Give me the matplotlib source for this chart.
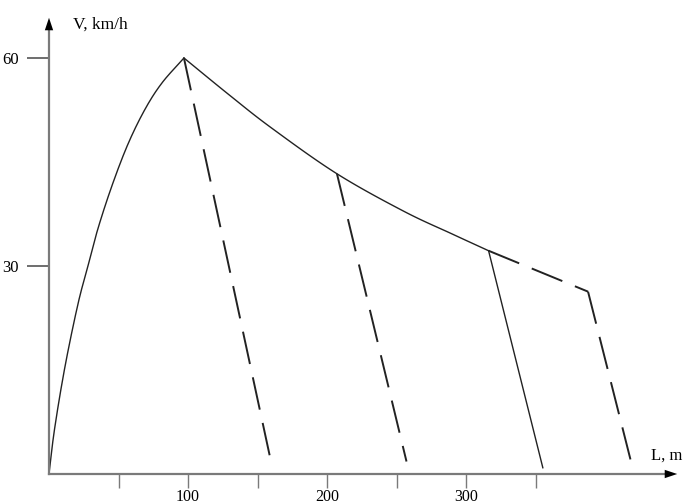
import matplotlib
matplotlib.use("Agg")
import matplotlib.pyplot as plt
import numpy as np

# acceleration curve (L, m ; V, km/h)
acc_L = [0, 4, 11.5, 20.8, 28, 35.2, 45.3, 56.8, 69, 81.2, 97]
acc_V = [0, 6.5, 15.5, 24.5, 30.0, 35.4, 41.6, 47.6, 52.6, 56.4, 60]

# coasting curve after peak
coast_L = [97, 130, 160, 207, 255, 290, 316]
coast_V = [60, 54.6, 49.9, 43.3, 37.9, 34.6, 32.2]

# braking lines
brake1_L = [97, 160]
brake1_V = [60, 1.4]
brake2_L = [207, 257]
brake2_V = [43.3, 1.8]
brake3_L = [316, 355]
brake3_V = [32.2, 0.9]
coast2_L = [316, 387.5]
coast2_V = [32.2, 26.3]
brake4_L = [387.5, 420]
brake4_V = [26.3, 0.5]

x_ticks = [50, 100, 150, 200, 250, 300, 350]
x_labels = ["", "100", "", "200", "", "300", ""]
y_ticks = [30, 60]
y_labels = ["30", "60"]


def smooth(xs, ys, n=20):
    # catmull-rom through the read points
    p = np.column_stack([xs, ys]).astype(float)
    p = np.vstack([2 * p[0] - p[1], p, 2 * p[-1] - p[-2]])
    t = np.linspace(0, 1, n, endpoint=False)[:, None]
    out = []
    for i in range(1, len(p) - 2):
        p0, p1, p2, p3 = p[i - 1], p[i], p[i + 1], p[i + 2]
        out.append(0.5 * ((2 * p1) + (-p0 + p2) * t
                          + (2 * p0 - 5 * p1 + 4 * p2 - p3) * t ** 2
                          + (-p0 + 3 * p1 - 3 * p2 + p3) * t ** 3))
    out.append(p[-2][None, :])
    out = np.vstack(out)
    return out[:, 0], out[:, 1]


plt.rcParams["font.family"] = ["Liberation Serif", "DejaVu Serif"]

fig = plt.figure(figsize=(6.85, 5.04), dpi=100)
ax = fig.add_axes([49 / 685, 30 / 504, 631 / 685, 459 / 504])
xmax, ymax = 453.6, 66.2
ax.set_xlim(0, xmax)
ax.set_ylim(0, ymax)

for s in ax.spines.values():
    s.set_visible(False)

axis_col = "#7a7a7a"
ax.plot([0, xmax - 8], [0, 0], color=axis_col, lw=1.6, clip_on=False, zorder=3)
ax.plot([0, 0], [0, ymax - 2], color=axis_col, lw=1.6, clip_on=False, zorder=3)
ax.annotate("", xy=(xmax, 0), xytext=(xmax - 10, 0),
            arrowprops=dict(arrowstyle="-|>,head_length=0.9,head_width=0.3",
                            color="black", lw=0), annotation_clip=False)
ax.annotate("", xy=(0, ymax), xytext=(0, ymax - 3),
            arrowprops=dict(arrowstyle="-|>,head_length=0.9,head_width=0.3",
                            color="black", lw=0), annotation_clip=False)

ax.set_xticks(x_ticks)
ax.set_xticklabels(x_labels)
ax.set_yticks(y_ticks)
ax.set_yticklabels(y_labels)
ax.tick_params(axis="x", direction="out", length=10, width=1, color=axis_col,
               labelsize=11.5, pad=1)
ax.tick_params(axis="y", direction="out", length=16, width=1.2, color="#555555",
               labelsize=12, pad=6)

line_col = "#222222"
ax.plot(*smooth(acc_L, acc_V), color=line_col, lw=1.0, clip_on=False)
ax.plot(*smooth(coast_L, coast_V), color=line_col, lw=1.0)
ax.plot(brake3_L, brake3_V, color=line_col, lw=1.0)
dash = (0, (17, 7))
for xs, ys in [(brake1_L, brake1_V), (brake2_L, brake2_V),
               (coast2_L, coast2_V), (brake4_L, brake4_V)]:
    ax.plot(xs, ys, color=line_col, lw=1.4, linestyle=dash)

fig.text(73 / 685, 1 - 25 / 504, "V, km/h", fontsize=12.5, va="center", ha="left")
fig.text(651 / 685, 1 - 456 / 504, "L, m", fontsize=12, va="center", ha="left")

fig.savefig("out.png", dpi=100)
